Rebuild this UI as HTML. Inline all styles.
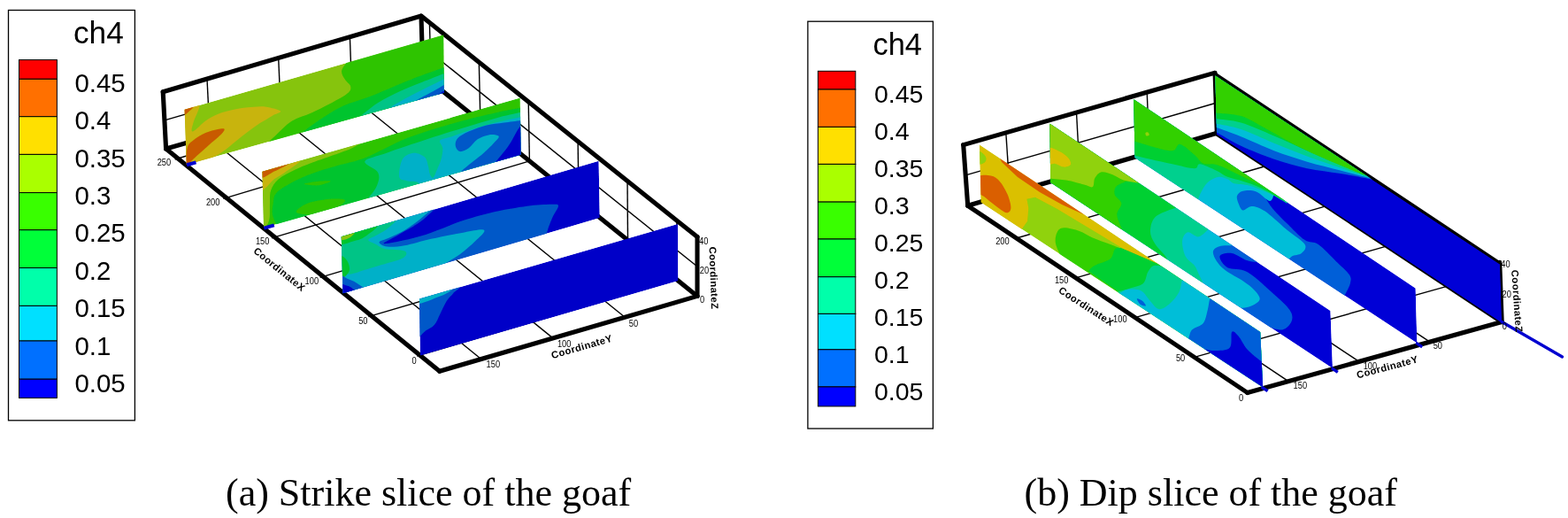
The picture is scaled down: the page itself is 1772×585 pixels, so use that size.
<!DOCTYPE html>
<html lang="en"><head><meta charset="utf-8"><title>Figure: ch4 slices of the goaf</title>
<style>
html,body{margin:0;padding:0;background:#fff;}
body{width:1772px;height:585px;overflow:hidden;}
svg{display:block;}
text{fill:#000;}
</style></head>
<body>
<svg width="1772" height="585" viewBox="0 0 1772 585">
<rect x="0" y="0" width="1772" height="585" fill="#fff"/>
<rect x="9.5" y="11.5" width="142.9" height="463.3" fill="#fff" stroke="#000" stroke-width="1.3"/>
<rect x="21.5" y="67.6" width="42.900000000000006" height="21.7" fill="#ff0000" stroke="#000" stroke-width="1"/>
<rect x="21.5" y="89.3" width="42.900000000000006" height="42.4" fill="#ff7000" stroke="#000" stroke-width="1"/>
<rect x="21.5" y="131.7" width="42.900000000000006" height="42.7" fill="#ffe000" stroke="#000" stroke-width="1"/>
<rect x="21.5" y="174.4" width="42.900000000000006" height="43.2" fill="#aaff00" stroke="#000" stroke-width="1"/>
<rect x="21.5" y="217.6" width="42.900000000000006" height="42.1" fill="#39ff00" stroke="#000" stroke-width="1"/>
<rect x="21.5" y="259.7" width="42.900000000000006" height="42.8" fill="#00ff39" stroke="#000" stroke-width="1"/>
<rect x="21.5" y="302.5" width="42.900000000000006" height="42.9" fill="#00ffaa" stroke="#000" stroke-width="1"/>
<rect x="21.5" y="345.4" width="42.900000000000006" height="39.6" fill="#00e0ff" stroke="#000" stroke-width="1"/>
<rect x="21.5" y="385.0" width="42.900000000000006" height="43.2" fill="#0070ff" stroke="#000" stroke-width="1"/>
<rect x="21.5" y="428.2" width="42.900000000000006" height="21.2" fill="#0000ff" stroke="#000" stroke-width="1"/>
<text x="83.0" y="49.3" font-family="'Liberation Sans', sans-serif" font-size="35.2" font-weight="normal" text-anchor="start" >ch4</text>
<text x="84.5" y="103.7" font-family="'Liberation Sans', sans-serif" font-size="29.4" font-weight="normal" text-anchor="start" >0.45</text>
<text x="84.5" y="146.1" font-family="'Liberation Sans', sans-serif" font-size="29.4" font-weight="normal" text-anchor="start" >0.4</text>
<text x="84.5" y="188.5" font-family="'Liberation Sans', sans-serif" font-size="29.4" font-weight="normal" text-anchor="start" >0.35</text>
<text x="84.5" y="230.9" font-family="'Liberation Sans', sans-serif" font-size="29.4" font-weight="normal" text-anchor="start" >0.3</text>
<text x="84.5" y="273.3" font-family="'Liberation Sans', sans-serif" font-size="29.4" font-weight="normal" text-anchor="start" >0.25</text>
<text x="84.5" y="315.7" font-family="'Liberation Sans', sans-serif" font-size="29.4" font-weight="normal" text-anchor="start" >0.2</text>
<text x="84.5" y="358.1" font-family="'Liberation Sans', sans-serif" font-size="29.4" font-weight="normal" text-anchor="start" >0.15</text>
<text x="84.5" y="400.5" font-family="'Liberation Sans', sans-serif" font-size="29.4" font-weight="normal" text-anchor="start" >0.1</text>
<text x="84.5" y="442.9" font-family="'Liberation Sans', sans-serif" font-size="29.4" font-weight="normal" text-anchor="start" >0.05</text>
<rect x="912.9" y="24.2" width="141.5000000000001" height="459.8" fill="#fff" stroke="#000" stroke-width="1.3"/>
<rect x="924.4" y="80.3" width="42.39999999999998" height="20.7" fill="#ff0000" stroke="#000" stroke-width="1"/>
<rect x="924.4" y="101.0" width="42.39999999999998" height="42.4" fill="#ff7000" stroke="#000" stroke-width="1"/>
<rect x="924.4" y="143.4" width="42.39999999999998" height="42.0" fill="#ffe000" stroke="#000" stroke-width="1"/>
<rect x="924.4" y="185.4" width="42.39999999999998" height="42.7" fill="#aaff00" stroke="#000" stroke-width="1"/>
<rect x="924.4" y="228.1" width="42.39999999999998" height="41.9" fill="#39ff00" stroke="#000" stroke-width="1"/>
<rect x="924.4" y="270.0" width="42.39999999999998" height="42.7" fill="#00ff39" stroke="#000" stroke-width="1"/>
<rect x="924.4" y="312.7" width="42.39999999999998" height="41.7" fill="#00ffaa" stroke="#000" stroke-width="1"/>
<rect x="924.4" y="354.4" width="42.39999999999998" height="40.4" fill="#00e0ff" stroke="#000" stroke-width="1"/>
<rect x="924.4" y="394.8" width="42.39999999999998" height="42.1" fill="#0070ff" stroke="#000" stroke-width="1"/>
<rect x="924.4" y="436.9" width="42.39999999999998" height="22.0" fill="#0000ff" stroke="#000" stroke-width="1"/>
<text x="986.5" y="62.0" font-family="'Liberation Sans', sans-serif" font-size="34.4" font-weight="normal" text-anchor="start" >ch4</text>
<text x="988.0" y="115.6" font-family="'Liberation Sans', sans-serif" font-size="28.5" font-weight="normal" text-anchor="start" >0.45</text>
<text x="988.0" y="157.6" font-family="'Liberation Sans', sans-serif" font-size="28.5" font-weight="normal" text-anchor="start" >0.4</text>
<text x="988.0" y="199.6" font-family="'Liberation Sans', sans-serif" font-size="28.5" font-weight="normal" text-anchor="start" >0.35</text>
<text x="988.0" y="241.6" font-family="'Liberation Sans', sans-serif" font-size="28.5" font-weight="normal" text-anchor="start" >0.3</text>
<text x="988.0" y="283.6" font-family="'Liberation Sans', sans-serif" font-size="28.5" font-weight="normal" text-anchor="start" >0.25</text>
<text x="988.0" y="325.6" font-family="'Liberation Sans', sans-serif" font-size="28.5" font-weight="normal" text-anchor="start" >0.2</text>
<text x="988.0" y="367.6" font-family="'Liberation Sans', sans-serif" font-size="28.5" font-weight="normal" text-anchor="start" >0.15</text>
<text x="988.0" y="409.6" font-family="'Liberation Sans', sans-serif" font-size="28.5" font-weight="normal" text-anchor="start" >0.1</text>
<text x="988.0" y="451.6" font-family="'Liberation Sans', sans-serif" font-size="28.5" font-weight="normal" text-anchor="start" >0.05</text>
<text x="255.0" y="570.5" font-family="'Liberation Serif', sans-serif" font-size="44" font-weight="normal" text-anchor="start" >(a) Strike slice of the goaf</text>
<text x="1157.5" y="570.5" font-family="'Liberation Serif', sans-serif" font-size="44" font-weight="normal" text-anchor="start" >(b) Dip slice of the goaf</text>
<defs><filter id="soft" x="-2%" y="-2%" width="104%" height="104%"><feGaussianBlur stdDeviation="0.5"/></filter></defs>
<g filter="url(#soft)">
<line x1="197.7" y1="180.0" x2="487.3" y2="92.5" stroke="#000" stroke-width="1.4" stroke-linecap="butt"/>
<line x1="252.4" y1="224.4" x2="542.9" y2="137.2" stroke="#000" stroke-width="1.4" stroke-linecap="butt"/>
<line x1="307.0" y1="268.9" x2="598.4" y2="181.9" stroke="#000" stroke-width="1.4" stroke-linecap="butt"/>
<line x1="361.7" y1="313.3" x2="654.0" y2="226.6" stroke="#000" stroke-width="1.4" stroke-linecap="butt"/>
<line x1="416.4" y1="357.7" x2="709.5" y2="271.3" stroke="#000" stroke-width="1.4" stroke-linecap="butt"/>
<line x1="471.1" y1="402.1" x2="765.1" y2="315.9" stroke="#000" stroke-width="1.4" stroke-linecap="butt"/>
<line x1="543.7" y1="405.5" x2="234.4" y2="154.6" stroke="#000" stroke-width="1.4" stroke-linecap="butt"/>
<line x1="624.9" y1="381.9" x2="315.4" y2="131.5" stroke="#000" stroke-width="1.4" stroke-linecap="butt"/>
<line x1="706.2" y1="358.2" x2="396.4" y2="108.3" stroke="#000" stroke-width="1.4" stroke-linecap="butt"/>
<line x1="237.2" y1="153.8" x2="234.0" y2="89.1" stroke="#000" stroke-width="1.4" stroke-linecap="butt"/>
<line x1="317.5" y1="130.9" x2="314.7" y2="65.4" stroke="#000" stroke-width="1.4" stroke-linecap="butt"/>
<line x1="397.8" y1="107.9" x2="395.4" y2="41.7" stroke="#000" stroke-width="1.4" stroke-linecap="butt"/>
<line x1="185.9" y1="135.8" x2="477.0" y2="51.5" stroke="#000" stroke-width="1.4" stroke-linecap="butt"/>
<line x1="487.3" y1="92.5" x2="485.4" y2="25.5" stroke="#000" stroke-width="1.4" stroke-linecap="butt"/>
<line x1="542.9" y1="137.2" x2="541.3" y2="70.2" stroke="#000" stroke-width="1.4" stroke-linecap="butt"/>
<line x1="598.4" y1="181.9" x2="597.2" y2="114.9" stroke="#000" stroke-width="1.4" stroke-linecap="butt"/>
<line x1="654.0" y1="226.6" x2="653.1" y2="159.7" stroke="#000" stroke-width="1.4" stroke-linecap="butt"/>
<line x1="709.5" y1="271.3" x2="709.0" y2="204.4" stroke="#000" stroke-width="1.4" stroke-linecap="butt"/>
<line x1="765.1" y1="315.9" x2="764.9" y2="249.1" stroke="#000" stroke-width="1.4" stroke-linecap="butt"/>
<line x1="477.0" y1="51.5" x2="788.0" y2="301.0" stroke="#000" stroke-width="1.4" stroke-linecap="butt"/>
<line x1="187.6" y1="168.0" x2="478.0" y2="85.0" stroke="#000" stroke-width="5.1" stroke-linecap="round"/>
<line x1="478.0" y1="85.0" x2="788.0" y2="334.4" stroke="#000" stroke-width="5.1" stroke-linecap="round"/>
<line x1="478.0" y1="85.0" x2="476.0" y2="18.0" stroke="#000" stroke-width="5.1" stroke-linecap="round"/>
<polyline points="184.2,103.7 476.0,18.0 788.0,267.6" fill="none" stroke="#000" stroke-width="5.1" stroke-linejoin="round" stroke-linecap="round"/>
<line x1="187.6" y1="168.0" x2="184.2" y2="103.7" stroke="#000" stroke-width="5.1" stroke-linecap="round"/>
<line x1="187.6" y1="168.0" x2="496.8" y2="419.2" stroke="#000" stroke-width="5.1" stroke-linecap="round"/>
<line x1="496.8" y1="419.2" x2="788.0" y2="334.4" stroke="#000" stroke-width="5.1" stroke-linecap="round"/>
<line x1="788.0" y1="334.4" x2="788.0" y2="267.6" stroke="#000" stroke-width="5.1" stroke-linecap="round"/>
<clipPath id="ls0"><polygon points="208.6,123.7 501.2,39.4 501.8,104.8 210.8,186.0"/></clipPath>
<g clip-path="url(#ls0)">
<polygon points="208.6,123.7 501.2,39.4 501.8,104.8 210.8,186.0" fill="#86c40a" />
<path d="M393.6,68.0 C392.4,70.0 386.7,76.3 386.1,79.9 C385.5,83.5 388.2,86.9 389.9,89.8 C391.6,92.7 395.5,94.8 396.1,97.3 C396.7,99.8 396.7,101.9 393.6,104.8 C390.5,107.7 384.2,111.0 377.4,114.8 C370.5,118.5 360.4,123.6 352.5,127.3 C344.6,131.0 336.4,132.6 329.7,136.8 C323.0,141.0 317.0,147.9 312.2,152.3 C307.4,156.7 302.9,161.2 301.0,163.0 L300.0,175.0 L510.0,110.0 L510.0,30.0 L393.0,60.0Z" fill="#2ec400"/>
<path d="M335.0,156.0 C335.8,155.2 335.2,154.5 339.7,151.0 C344.2,147.5 354.2,140.0 362.1,134.8 C370.0,129.6 377.0,124.5 387.0,119.9 C397.0,115.3 409.1,112.4 422.0,107.4 C434.9,102.4 450.9,95.2 464.7,89.8 C478.5,84.4 498.3,77.5 505.0,75.0 L510.0,120.0 L330.0,170.0Z" fill="#00c42e"/>
<path d="M402.4,137.2 C403.3,136.2 403.7,134.5 407.8,131.0 C412.0,127.5 419.9,120.7 427.3,116.0 C434.7,111.4 443.9,106.9 452.2,103.1 C460.6,99.2 468.0,96.5 477.2,92.8 C486.3,89.2 502.1,83.1 507.1,81.1 L510.0,120.0 L400.0,140.0Z" fill="#00c486"/>
<path d="M436.0,127.3 C436.7,126.3 435.5,125.0 440.3,121.8 C445.1,118.5 456.5,112.2 464.7,107.8 C473.0,103.4 482.6,98.8 489.7,95.3 C496.7,91.8 504.2,88.3 507.1,86.8 L510.0,120.0 L435.0,130.0Z" fill="#00b0c8"/>
<path d="M466.0,118.5 C466.7,117.7 466.3,116.1 470.2,113.5 C474.2,111.0 483.5,106.5 489.7,103.1 C495.8,99.6 504.2,94.5 507.1,92.8 L510.0,120.0 L465.0,122.0Z" fill="#0058c8"/>
<path d="M489.7,109.8 C490.7,109.2 493.0,107.8 495.9,106.1 C498.8,104.3 505.3,100.4 507.1,99.3 L510.0,115.0 L484.0,116.0Z" fill="#0000c8"/>
<path d="M205.0,117.3 C208.4,104.7 223.2,112.5 225.5,115.9 C227.8,119.3 220.1,132.5 218.7,137.8 C217.2,143.0 216.4,145.7 216.6,147.3 C216.8,148.9 217.4,149.2 220.0,147.3 C222.7,145.5 228.0,139.5 232.3,136.4 C236.7,133.3 241.4,130.8 246.0,128.9 C250.6,126.9 255.1,125.9 259.7,124.8 C264.2,123.6 268.8,122.7 273.3,122.1 C277.9,121.4 282.4,120.9 287.0,120.7 C291.6,120.5 295.7,119.9 300.7,120.7 C305.7,121.5 315.9,123.8 317.1,125.5 C318.2,127.2 311.4,128.7 307.5,130.9 C303.6,133.2 298.4,136.2 293.8,139.1 C289.3,142.1 284.7,145.3 280.2,148.7 C275.6,152.1 271.1,156.0 266.5,159.6 C261.9,163.3 257.4,167.4 252.8,170.6 C248.3,173.8 244.2,176.4 239.2,178.8 C234.2,181.2 227.1,182.9 222.8,184.9 C218.4,187.0 216.2,190.0 213.2,191.1 C210.2,192.1 206.4,203.4 205.0,191.1 C203.6,178.8 201.6,129.8 205.0,117.3Z" fill="#c8b408"/>
<path d="M205.0,118.6 C207.4,116.5 220.0,115.3 221.4,116.6 C222.8,117.8 215.6,124.0 213.2,126.2 C210.8,128.3 208.4,130.8 207.1,129.6 C205.7,128.3 202.6,120.8 205.0,118.6Z" fill="#c85a00"/>
<path d="M209.8,185.6 C209.8,182.2 210.4,171.0 211.8,166.5 C213.3,161.9 215.3,161.0 218.7,158.3 C222.1,155.5 227.8,152.1 232.3,150.1 C236.9,148.0 242.5,146.7 246.0,146.0 C249.5,145.2 252.8,144.8 253.5,145.7 C254.2,146.6 252.5,148.9 250.1,151.4 C247.7,154.0 243.3,157.4 239.2,161.0 C235.1,164.6 229.4,169.8 225.5,173.3 C221.6,176.8 218.2,179.9 215.9,182.2 C213.7,184.5 212.9,186.4 211.8,187.0 C210.8,187.5 209.8,189.0 209.8,185.6Z" fill="#c85a00"/>
</g>
<clipPath id="ls1"><polygon points="296.5,193.7 587.8,110.5 588.5,174.8 298.0,257.3"/></clipPath>
<g clip-path="url(#ls1)">
<polygon points="296.5,193.7 587.8,110.5 588.5,174.8 298.0,257.3" fill="#2ec400" />
<path d="M292.5,192.4 C310.4,176.4 382.3,165.3 399.7,161.2 C417.2,157.0 403.9,164.1 397.2,167.4 C390.6,170.7 370.2,177.2 359.8,181.1 C349.4,185.1 342.4,187.6 334.9,191.1 C327.4,194.6 319.7,198.4 314.9,202.3 C310.2,206.3 307.9,210.2 306.2,214.8 C304.5,219.4 305.2,224.4 305.0,229.8 C304.7,235.2 305.3,242.9 304.5,247.2 C303.6,251.6 302.0,254.3 300.0,256.0 C298.0,257.6 293.7,267.8 292.5,257.2 C291.2,246.6 274.6,208.4 292.5,192.4Z" fill="#86c40a"/>
<path d="M292.5,196.1 C300.2,190.3 333.6,181.4 338.6,181.1 C343.6,180.8 327.2,190.8 322.4,194.4 C317.6,197.9 313.7,199.3 309.9,202.3 C306.2,205.3 302.9,210.0 300.0,212.3 C297.1,214.6 293.7,218.8 292.5,216.1 C291.2,213.4 284.8,201.9 292.5,196.1Z" fill="#c8b408"/>
<path d="M292.5,191.1 C297.7,188.3 323.2,184.0 326.2,184.4 C329.1,184.8 315.1,190.8 309.9,193.6 C304.7,196.4 297.9,201.5 295.0,201.1 C292.1,200.7 287.3,193.9 292.5,191.1Z" fill="#c85a00"/>
<path d="M312.4,253.5 C311.7,251.6 308.6,246.2 307.9,242.2 C307.3,238.3 307.9,233.9 308.7,229.8 C309.5,225.6 308.6,221.7 312.9,217.3 C317.3,212.9 327.1,207.5 334.9,203.6 C342.7,199.6 351.5,196.5 359.8,193.6 C368.1,190.7 375.6,188.8 384.8,186.1 C393.9,183.4 402.2,182.4 414.7,177.4 C427.2,172.4 444.0,162.4 459.9,156.1 C475.7,149.9 493.1,144.7 509.8,139.9 C526.4,135.1 545.9,130.5 559.7,127.4 C573.4,124.3 586.7,122.2 592.1,121.2 L600.0,180.0 L300.0,270.0Z" fill="#00c42e"/>
<path d="M334.9,239.8 C333.6,237.7 341.1,232.3 347.4,229.8 C353.6,227.3 365.2,225.4 372.3,224.8 C379.4,224.2 388.5,224.4 389.8,226.0 C391.0,227.7 385.6,232.1 379.8,234.8 C374.0,237.5 362.3,241.4 354.8,242.2 C347.4,243.1 336.1,241.8 334.9,239.8Z" fill="#2ec400"/>
<path d="M343.6,207.8 C343.6,207.1 354.8,205.3 359.8,204.8 C364.8,204.3 373.6,204.1 373.6,204.8 C373.6,205.6 364.8,208.8 359.8,209.3 C354.8,209.8 343.6,208.6 343.6,207.8Z" fill="#2ec400"/>
<path d="M592.1,126.2 C586.7,127.4 573.4,129.9 559.7,133.7 C545.9,137.4 526.4,143.4 509.8,148.6 C493.1,153.8 472.4,160.7 459.9,164.8 C447.4,169.0 442.9,170.6 434.9,173.6 C427.0,176.5 413.5,178.8 412.2,182.4 C410.9,185.9 424.9,190.3 427.2,194.9 C429.5,199.4 428.0,204.6 425.9,209.8 C423.9,215.0 417.2,222.3 414.7,226.0 C412.2,229.8 411.6,231.2 411.0,232.3 L600.0,180.0Z" fill="#00c486"/>
<path d="M592.1,131.2 C586.7,132.4 570.1,135.9 559.7,138.6 C549.3,141.3 538.0,144.8 529.7,147.4 C521.4,150.0 515.2,152.5 509.8,154.4 C504.4,156.2 498.9,156.4 497.3,158.6 C495.7,160.8 500.1,163.8 500.3,167.3 C500.5,170.9 499.7,175.6 498.6,179.8 C497.4,184.0 495.1,188.7 493.6,192.3 C492.0,195.8 490.7,200.4 489.3,201.0 C488.0,201.6 486.5,198.3 485.6,196.0 C484.7,193.7 484.8,190.4 483.8,187.3 C482.9,184.2 482.6,179.7 479.8,177.3 C477.1,174.9 471.5,172.4 467.4,172.8 C463.2,173.2 457.6,175.3 454.9,179.8 C452.2,184.3 450.3,195.7 451.2,199.8 C452.0,203.8 456.4,203.2 459.9,204.2 C463.4,205.3 470.7,204.5 472.4,206.0 C474.0,207.5 470.3,212.2 469.9,213.5 L600.0,180.0Z" fill="#00b0c8"/>
<path d="M592.1,135.6 C588.3,136.1 576.7,137.6 569.6,138.6 C562.6,139.6 556.3,140.0 549.7,141.6 C543.0,143.3 535.1,146.2 529.7,148.6 C524.3,151.0 519.8,153.4 517.3,156.1 C514.8,158.8 514.3,162.3 514.8,164.8 C515.2,167.3 517.3,170.7 519.8,171.1 C522.2,171.5 526.4,169.6 529.7,167.3 C533.1,165.0 536.0,159.8 539.7,157.3 C543.4,154.9 548.2,153.0 552.2,152.4 C556.1,151.7 562.2,152.4 563.4,153.6 C564.7,154.9 562.4,156.7 559.7,159.8 C557.0,163.0 551.3,168.6 547.2,172.3 C543.0,176.1 539.3,178.6 534.7,182.3 C530.1,186.0 523.1,191.6 519.8,194.8 C516.4,197.9 515.6,200.0 514.8,201.0 L600.0,180.0Z" fill="#0058c8"/>
<path d="M557.2,187.3 C557.6,186.7 556.8,187.3 559.7,183.5 C562.6,179.8 570.5,170.9 574.6,164.8 C578.8,158.8 582.3,151.2 584.6,147.4 C586.9,143.5 587.7,143.3 588.6,141.9 C589.5,140.4 589.8,139.2 590.1,138.6 L600.0,180.0Z" fill="#0000c8"/>
</g>
<clipPath id="ls2"><polygon points="385.8,267.3 676.6,181.8 677.8,246.1 387.5,331.2"/></clipPath>
<g clip-path="url(#ls2)">
<polygon points="385.8,267.3 676.6,181.8 677.8,246.1 387.5,331.2" fill="#0000c8" />
<path d="M616.0,271.0 C616.6,268.7 618.3,261.6 619.7,257.3 C621.2,252.9 622.8,248.9 624.7,244.8 C626.6,240.7 631.0,235.2 631.0,232.8 C631.0,230.5 629.9,230.9 624.7,230.8 C619.5,230.8 610.2,231.0 599.8,232.3 C589.4,233.6 574.8,235.9 562.4,238.6 C549.9,241.3 535.3,245.3 524.9,248.6 C514.5,251.8 508.3,254.8 500.0,257.9 C491.6,260.9 483.1,264.4 474.8,266.8 C466.4,269.3 456.7,271.5 449.8,272.8 C443.0,274.2 433.6,276.1 433.6,274.8 C433.6,273.6 443.0,269.4 449.8,265.4 C456.7,261.3 467.3,256.1 474.8,250.6 C482.3,245.1 491.4,235.5 494.7,232.4 L370.0,250.0 L380.0,345.0 L620.0,275.0Z" fill="#0058c8"/>
<path d="M491.0,233.7 C488.3,236.0 480.4,243.0 474.8,247.4 C469.2,251.8 463.1,256.3 457.3,259.9 C451.5,263.4 444.6,266.3 439.9,268.6 C435.1,270.9 429.0,271.9 428.6,273.6 C428.2,275.2 432.6,277.9 437.4,278.6 C442.1,279.2 449.0,278.8 457.3,277.3 C465.6,275.9 476.0,272.3 487.2,269.8 C498.5,267.3 514.7,264.0 524.7,262.4 C534.6,260.7 545.0,258.2 547.1,259.9 C549.2,261.5 541.7,267.8 537.1,272.3 C532.6,276.9 525.5,282.9 519.7,287.3 C513.9,291.7 506.2,295.2 502.2,298.5 C498.3,301.9 497.0,305.8 496.0,307.3 L380.0,345.0 L370.0,250.0Z" fill="#00b0c8"/>
<path d="M452.3,244.9 C449.8,247.2 441.9,255.1 437.4,258.6 C432.8,262.2 428.4,264.0 424.9,266.1 C421.4,268.2 416.2,269.4 416.2,271.1 C416.2,272.8 421.8,274.4 424.9,276.1 C428.0,277.7 429.5,279.8 434.9,281.1 C440.3,282.3 453.8,281.9 457.3,283.6 C460.8,285.2 459.4,288.8 456.1,291.0 C452.7,293.3 444.6,295.0 437.4,297.3 C430.1,299.6 419.5,302.7 412.4,304.8 C405.3,306.8 399.9,309.5 395.0,309.8 C390.0,310.0 384.6,306.6 382.5,306.0 L370.0,250.0Z" fill="#00c486"/>
<path d="M382.5,263.6 C389.8,259.9 421.1,253.0 426.1,253.6 C431.1,254.3 416.8,264.2 412.4,267.3 C408.1,270.5 404.9,270.9 399.9,272.3 C395.0,273.8 385.4,277.5 382.5,276.1 C379.6,274.6 375.2,267.3 382.5,263.6Z" fill="#00c42e"/>
<path d="M385.0,289.8 C386.2,286.9 390.8,292.3 392.5,294.8 C394.1,297.3 395.4,301.9 395.0,304.8 C394.5,307.7 391.6,311.0 390.0,312.2 C388.3,313.5 385.8,316.0 385.0,312.2 C384.1,308.5 383.7,292.7 385.0,289.8Z" fill="#00c42e"/>
<path d="M382.5,262.4 C385.4,260.5 399.1,258.8 401.2,259.9 C403.3,260.9 397.9,266.7 395.0,268.6 C392.0,270.5 385.8,272.1 383.7,271.1 C381.7,270.1 379.6,264.2 382.5,262.4Z" fill="#86c40a"/>
<path d="M382.5,311.0 C383.7,307.5 389.1,313.4 392.5,314.7 C395.8,316.1 399.3,316.9 402.4,319.2 C405.6,321.5 414.1,325.7 411.2,328.5 C408.3,331.2 389.8,338.9 385.0,335.9 C380.2,333.0 381.2,314.5 382.5,311.0Z" fill="#0058c8"/>
<path d="M382.5,321.7 C383.7,319.5 389.8,322.0 392.5,322.7 C395.2,323.4 397.2,324.6 398.7,326.0 C400.2,327.3 403.5,329.3 401.2,331.0 C398.9,332.6 388.1,337.5 385.0,335.9 C381.9,334.4 381.2,323.9 382.5,321.7Z" fill="#0000c8"/>
</g>
<clipPath id="ls3"><polygon points="474.0,337.4 765.9,252.9 766.4,317.2 474.8,401.8"/></clipPath>
<g clip-path="url(#ls3)">
<polygon points="474.0,337.4 765.9,252.9 766.4,317.2 474.8,401.8" fill="#0000c8" />
<path d="M469.8,334.9 C477.5,325.8 510.1,324.3 517.2,323.7 C524.3,323.1 514.3,328.5 512.2,331.2 C510.1,333.9 507.2,336.0 504.7,339.9 C502.2,343.9 499.5,350.4 497.2,354.9 C494.9,359.4 493.7,363.7 491.0,366.8 C488.3,370.0 484.3,371.6 481.0,373.6 C477.7,375.5 472.9,385.0 471.0,378.6 C469.2,372.1 462.1,344.1 469.8,334.9Z" fill="#0058c8"/>
<path d="M471.0,334.9 C477.7,331.9 505.3,325.6 511.0,324.9 C516.6,324.3 508.3,329.1 504.7,331.2 C501.2,333.3 493.9,335.8 489.8,337.4 C485.6,339.1 482.9,340.2 479.8,341.2 C476.7,342.1 472.5,343.9 471.0,342.9 C469.6,341.9 464.4,337.9 471.0,334.9Z" fill="#00b0c8"/>
</g>
<text transform="translate(185.4,187.1) scale(0.86,1)" font-family="'Liberation Sans', sans-serif" font-size="10.8" text-anchor="middle" fill="#2a2a2a">250</text>
<text transform="translate(240.7,231.7) scale(0.86,1)" font-family="'Liberation Sans', sans-serif" font-size="10.8" text-anchor="middle" fill="#2a2a2a">200</text>
<text transform="translate(296.7,276.1) scale(0.86,1)" font-family="'Liberation Sans', sans-serif" font-size="10.8" text-anchor="middle" fill="#2a2a2a">150</text>
<text transform="translate(352.3,320.9) scale(0.86,1)" font-family="'Liberation Sans', sans-serif" font-size="10.8" text-anchor="middle" fill="#2a2a2a">100</text>
<text transform="translate(410.3,365.7) scale(0.86,1)" font-family="'Liberation Sans', sans-serif" font-size="10.8" text-anchor="middle" fill="#2a2a2a">50</text>
<text transform="translate(468.1,410.6) scale(0.86,1)" font-family="'Liberation Sans', sans-serif" font-size="10.8" text-anchor="middle" fill="#2a2a2a">0</text>
<text transform="translate(557.3,415.4) scale(0.86,1)" font-family="'Liberation Sans', sans-serif" font-size="10.8" text-anchor="middle" fill="#2a2a2a">150</text>
<text transform="translate(637.7,391.7) scale(0.86,1)" font-family="'Liberation Sans', sans-serif" font-size="10.8" text-anchor="middle" fill="#2a2a2a">100</text>
<text transform="translate(716.0,368.6) scale(0.86,1)" font-family="'Liberation Sans', sans-serif" font-size="10.8" text-anchor="middle" fill="#2a2a2a">50</text>
<text transform="translate(795.2,276.3) scale(0.86,1)" font-family="'Liberation Sans', sans-serif" font-size="10.8" text-anchor="middle" fill="#2a2a2a">40</text>
<text transform="translate(795.9,308.7) scale(0.86,1)" font-family="'Liberation Sans', sans-serif" font-size="10.8" text-anchor="middle" fill="#2a2a2a">20</text>
<text transform="translate(793.6,342.4) scale(0.86,1)" font-family="'Liberation Sans', sans-serif" font-size="10.8" text-anchor="middle" fill="#2a2a2a">0</text>
<line x1="211.0" y1="186.3" x2="221.5" y2="183.4" stroke="#0000d0" stroke-width="4.0" stroke-linecap="butt"/>
<line x1="298.3" y1="257.6" x2="309.8" y2="254.4" stroke="#0000d0" stroke-width="4.0" stroke-linecap="butt"/>
<text x="287.5" y="282.4" font-family="'Liberation Sans', sans-serif" font-size="11.2" font-weight="bold" text-anchor="start" transform="rotate(39 287.5 282.4)" dominant-baseline="middle" letter-spacing="0.45">CoordinateX</text>
<text x="623.4" y="402.3" font-family="'Liberation Sans', sans-serif" font-size="11.2" font-weight="bold" text-anchor="start" transform="rotate(-16 623.4 402.3)" dominant-baseline="middle" letter-spacing="0.45">CoordinateY</text>
<text x="804.5" y="278.6" font-family="'Liberation Sans', sans-serif" font-size="11.2" font-weight="bold" text-anchor="start" transform="rotate(88 804.5 278.6)" dominant-baseline="middle" letter-spacing="0.45">CoordinateZ</text>
</g>
<g filter="url(#soft)">
<line x1="1148.6" y1="269.0" x2="1430.6" y2="187.5" stroke="#000" stroke-width="1.4" stroke-linecap="butt"/>
<line x1="1215.6" y1="313.8" x2="1499.0" y2="232.7" stroke="#000" stroke-width="1.4" stroke-linecap="butt"/>
<line x1="1282.7" y1="358.6" x2="1567.5" y2="277.9" stroke="#000" stroke-width="1.4" stroke-linecap="butt"/>
<line x1="1349.8" y1="403.4" x2="1636.0" y2="323.1" stroke="#000" stroke-width="1.4" stroke-linecap="butt"/>
<line x1="1456.1" y1="430.6" x2="1139.0" y2="219.1" stroke="#000" stroke-width="1.4" stroke-linecap="butt"/>
<line x1="1536.0" y1="408.4" x2="1217.0" y2="196.4" stroke="#000" stroke-width="1.4" stroke-linecap="butt"/>
<line x1="1615.9" y1="386.1" x2="1295.1" y2="173.6" stroke="#000" stroke-width="1.4" stroke-linecap="butt"/>
<line x1="1141.3" y1="218.4" x2="1136.8" y2="149.8" stroke="#000" stroke-width="1.4" stroke-linecap="butt"/>
<line x1="1220.2" y1="195.4" x2="1216.5" y2="127.0" stroke="#000" stroke-width="1.4" stroke-linecap="butt"/>
<line x1="1299.1" y1="172.5" x2="1296.2" y2="104.2" stroke="#000" stroke-width="1.4" stroke-linecap="butt"/>
<line x1="1091.2" y1="197.9" x2="1373.4" y2="116.5" stroke="#000" stroke-width="1.4" stroke-linecap="butt"/>
<line x1="1093.7" y1="232.3" x2="1374.5" y2="150.5" stroke="#000" stroke-width="5.1" stroke-linecap="round"/>
<line x1="1374.5" y1="150.5" x2="1697.2" y2="363.5" stroke="#000" stroke-width="5.1" stroke-linecap="round"/>
<line x1="1375.3" y1="150.5" x2="1373.1" y2="82.4" stroke="#000" stroke-width="5.1" stroke-linecap="round"/>
<line x1="1088.7" y1="163.6" x2="1372.3" y2="82.4" stroke="#000" stroke-width="5.1" stroke-linecap="round"/>
<line x1="1372.9" y1="84.0" x2="1694.7" y2="297.8" stroke="#000" stroke-width="5.1" stroke-linecap="round"/>
<line x1="1093.7" y1="232.3" x2="1088.7" y2="163.6" stroke="#000" stroke-width="5.1" stroke-linecap="round"/>
<line x1="1093.7" y1="232.3" x2="1409.7" y2="443.5" stroke="#000" stroke-width="5.1" stroke-linecap="round"/>
<line x1="1409.7" y1="443.5" x2="1697.2" y2="363.5" stroke="#000" stroke-width="5.1" stroke-linecap="round"/>
<line x1="1697.2" y1="363.5" x2="1694.7" y2="296.2" stroke="#000" stroke-width="5.1" stroke-linecap="round"/>
<line x1="1697.2" y1="363.5" x2="1765.5" y2="403.0" stroke="#0000d0" stroke-width="3.4" stroke-linecap="round"/>
<clipPath id="rs0"><polygon points="1373.4,85.4 1695.2,298.6 1697.2,364.8 1375.0,152.0"/></clipPath>
<g clip-path="url(#rs0)">
<polygon points="1373.4,85.4 1695.2,298.6 1697.2,364.8 1375.0,152.0" fill="#0000d6" />
<path d="M1367.5,147.8 C1368.5,148.0 1367.9,146.2 1373.7,149.1 C1379.6,151.9 1391.4,159.7 1402.4,164.8 C1413.4,169.9 1427.4,175.5 1439.8,179.8 C1452.3,184.0 1464.8,187.5 1477.2,190.2 C1489.7,192.9 1502.4,193.9 1514.7,196.0 C1526.9,198.0 1544.8,201.6 1550.8,202.7 L1580.0,205.0 L1365.0,60.0Z" fill="#005ed8"/>
<path d="M1367.5,142.3 C1368.5,142.6 1367.9,141.8 1373.7,143.8 C1379.6,145.8 1391.4,149.9 1402.4,154.3 C1413.4,158.7 1427.4,165.5 1439.8,170.3 C1452.3,175.0 1464.8,179.0 1477.2,182.7 C1489.7,186.4 1502.8,189.4 1514.7,192.5 C1526.5,195.6 1542.7,199.7 1548.3,201.2 L1580.0,205.0 L1365.0,60.0Z" fill="#00bed8"/>
<path d="M1367.5,138.3 C1368.5,138.6 1367.9,138.3 1373.7,139.6 C1379.6,140.9 1391.4,142.4 1402.4,146.1 C1413.4,149.8 1427.4,156.7 1439.8,161.8 C1452.3,166.9 1464.8,171.9 1477.2,176.5 C1489.7,181.1 1503.2,185.6 1514.7,189.5 C1526.1,193.3 1540.6,198.0 1545.8,199.7 L1580.0,205.0 L1365.0,60.0Z" fill="#00d08e"/>
<path d="M1367.5,133.1 C1368.5,133.3 1367.9,133.2 1373.7,134.1 C1379.6,135.0 1391.4,135.4 1402.4,138.6 C1413.4,141.8 1427.4,148.3 1439.8,153.6 C1452.3,158.8 1464.8,164.8 1477.2,170.3 C1489.7,175.7 1503.6,181.6 1514.7,186.2 C1525.7,190.9 1538.6,196.2 1543.3,198.2 L1580.0,205.0 L1365.0,60.0Z" fill="#00d030"/>
<path d="M1367.5,126.6 C1368.5,126.7 1367.9,126.6 1373.7,127.4 C1379.6,128.1 1393.5,128.4 1402.4,131.1 C1411.4,133.8 1417.0,138.1 1427.4,143.6 C1437.8,149.1 1452.3,158.0 1464.8,164.3 C1477.2,170.6 1489.5,176.0 1502.2,181.5 C1514.9,187.0 1534.4,194.6 1540.9,197.2 L1580.0,205.0 L1365.0,60.0Z" fill="#30d000"/>
</g>
<clipPath id="rs1"><polygon points="1281.3,112.3 1599.7,325.5 1601.4,387.5 1282.5,178.0"/></clipPath>
<g clip-path="url(#rs1)">
<polygon points="1281.3,112.3 1599.7,325.5 1601.4,387.5 1282.5,178.0" fill="#0000d6" />
<path d="M1419.7,205.0 C1422.0,208.9 1429.7,222.8 1433.4,228.7 C1437.1,234.5 1438.6,235.9 1442.1,239.9 C1445.7,243.8 1449.2,247.2 1454.6,252.4 C1460.0,257.6 1468.7,267.1 1474.6,271.1 C1480.4,275.0 1483.9,272.1 1489.8,276.1 C1495.6,280.0 1503.9,289.3 1509.7,294.9 C1515.6,300.6 1522.0,305.8 1524.7,309.9 C1527.4,314.1 1526.8,315.9 1525.9,319.9 C1525.1,323.8 1521.4,329.9 1519.7,333.6 C1518.0,337.3 1516.6,340.9 1516.0,342.3 L1400.0,280.0 L1270.0,200.0 L1270.0,100.0Z" fill="#005ed8"/>
<path d="M1439.6,219.9 C1438.8,221.1 1438.0,227.5 1434.7,226.9 C1431.3,226.3 1424.7,218.3 1419.7,216.4 C1414.7,214.6 1408.3,214.9 1404.7,215.7 C1401.1,216.5 1398.8,218.8 1398.0,221.2 C1397.2,223.5 1398.6,227.2 1399.7,229.9 C1400.9,232.6 1402.2,236.9 1404.7,237.4 C1407.2,237.9 1410.5,232.7 1414.7,232.9 C1418.9,233.1 1423.0,234.2 1429.7,238.6 C1436.3,243.1 1447.1,253.6 1454.6,259.8 C1462.1,266.1 1471.9,271.7 1474.6,276.1 C1477.3,280.4 1473.3,283.7 1470.8,286.0 C1468.3,288.3 1462.7,287.5 1459.6,289.8 C1456.5,292.1 1453.4,298.1 1452.1,299.8 L1400.0,280.0 L1270.0,200.0 L1270.0,100.0Z" fill="#00bed8"/>
<path d="M1352.3,229.7 C1353.2,227.6 1355.2,221.2 1357.3,217.2 C1359.4,213.3 1361.5,208.9 1364.8,206.0 C1368.1,203.1 1373.5,200.4 1377.3,199.8 C1381.0,199.2 1384.3,201.0 1387.2,202.3 C1390.2,203.5 1390.6,206.0 1394.7,207.3 C1398.9,208.5 1405.1,207.7 1412.2,209.8 C1419.3,211.8 1430.1,216.4 1437.1,219.7 C1444.2,223.1 1451.7,228.0 1454.6,229.7 L1460.0,210.0 L1270.0,90.0 L1270.0,200.0Z" fill="#00d08e"/>
<path d="M1277.5,174.3 C1281.2,175.2 1292.0,178.0 1299.9,179.8 C1307.8,181.6 1316.6,183.6 1324.9,185.3 C1333.2,187.1 1344.6,190.3 1349.8,190.3 C1355.0,190.3 1351.9,184.9 1356.1,185.3 C1360.2,185.7 1369.6,190.4 1374.8,192.8 C1380.0,195.2 1382.3,197.8 1387.2,199.8 C1392.2,201.8 1398.5,202.7 1404.7,204.8 C1410.9,206.8 1416.8,208.5 1424.7,212.2 C1432.6,216.0 1447.5,224.7 1452.1,227.2 L1460.0,210.0 L1270.0,90.0Z" fill="#00d030"/>
<path d="M1277.5,157.9 C1281.2,159.0 1292.0,162.8 1299.9,164.9 C1307.8,166.9 1319.3,170.7 1324.9,170.3 C1330.5,170.0 1329.5,162.1 1333.6,162.9 C1337.8,163.6 1345.5,171.2 1349.8,174.8 C1354.2,178.5 1355.7,182.9 1359.8,184.8 C1364.0,186.7 1368.1,184.0 1374.8,186.1 C1381.4,188.1 1391.4,193.3 1399.7,197.3 C1408.0,201.2 1416.3,205.1 1424.7,209.8 C1433.0,214.4 1445.4,222.6 1449.6,225.2 L1460.0,210.0 L1270.0,90.0Z" fill="#30d000"/>
<path d="M1294.5,149.9 C1294.8,149.2 1296.7,149.0 1297.4,149.4 C1298.2,149.8 1299.0,151.7 1298.7,152.4 C1298.4,153.0 1296.2,153.8 1295.5,153.4 C1294.7,153.0 1294.1,150.6 1294.5,149.9Z" fill="#90d208"/>
</g>
<clipPath id="rs2"><polygon points="1186.5,139.8 1503.5,351.1 1506.0,416.0 1187.2,206.1"/></clipPath>
<g clip-path="url(#rs2)">
<polygon points="1186.5,139.8 1503.5,351.1 1506.0,416.0 1187.2,206.1" fill="#0000d6" />
<path d="M1429.7,297.3 C1426.3,296.8 1415.9,296.1 1409.7,294.3 C1403.5,292.4 1397.4,286.9 1392.2,286.0 C1387.1,285.2 1379.4,286.6 1378.5,289.3 C1377.7,292.0 1382.1,299.3 1387.3,302.2 C1392.5,305.2 1400.9,302.2 1409.7,307.2 C1418.5,312.3 1431.9,325.3 1439.9,332.4 C1447.8,339.5 1454.0,344.8 1457.3,349.8 C1460.7,354.8 1461.1,358.6 1459.8,362.3 C1458.6,366.0 1454.4,371.0 1449.9,372.3 C1445.3,373.5 1436.1,369.4 1432.4,369.8 C1428.7,370.2 1428.2,373.9 1427.4,374.8 L1180.0,220.0 L1180.0,130.0Z" fill="#005ed8"/>
<path d="M1399.7,277.3 C1396.4,277.4 1384.6,276.8 1379.8,277.8 C1375.0,278.8 1371.9,280.7 1371.0,283.5 C1370.2,286.4 1372.5,291.1 1374.8,294.8 C1377.1,298.4 1379.7,301.5 1384.8,305.2 C1389.8,309.0 1399.5,313.7 1405.0,317.4 C1410.4,321.1 1414.3,324.0 1417.4,327.4 C1420.6,330.7 1423.7,334.6 1423.7,337.3 C1423.7,340.1 1420.6,342.3 1417.4,344.1 C1414.3,345.8 1409.1,347.7 1405.0,347.8 C1400.8,347.9 1395.8,344.9 1392.5,344.8 C1389.2,344.7 1386.3,346.9 1385.0,347.3 L1180.0,220.0 L1180.0,130.0Z" fill="#00bed8"/>
<path d="M1367.3,257.3 C1365.2,259.0 1359.0,266.5 1354.8,267.3 C1350.7,268.2 1345.5,261.5 1342.4,262.3 C1339.2,263.2 1336.5,267.7 1336.1,272.3 C1335.7,276.9 1337.6,285.2 1339.9,289.8 C1342.2,294.3 1347.3,296.4 1349.8,299.8 C1352.3,303.1 1352.8,305.6 1354.8,309.7 C1356.9,313.9 1361.1,322.2 1362.3,324.7 L1180.0,220.0 L1180.0,130.0Z" fill="#00d08e"/>
<path d="M1334.9,232.4 C1330.3,234.3 1313.3,239.1 1307.4,243.6 C1301.6,248.2 1300.4,254.6 1300.0,259.8 C1299.5,265.0 1302.0,269.8 1304.9,274.8 C1307.9,279.8 1314.9,286.0 1317.4,289.8 C1319.9,293.5 1319.5,296.0 1319.9,297.3 L1180.0,220.0 L1180.0,130.0Z" fill="#00d030"/>
<path d="M1279.8,202.3 C1276.9,203.6 1265.6,206.9 1262.3,209.8 C1259.0,212.7 1259.0,216.5 1259.8,219.8 C1260.6,223.1 1266.9,226.0 1267.3,229.8 C1267.7,233.5 1262.3,237.7 1262.3,242.2 C1262.3,246.8 1266.0,253.5 1267.3,257.2 C1268.5,260.9 1269.4,263.4 1269.8,264.7 L1180.0,220.0 L1180.0,130.0Z" fill="#30d000"/>
<path d="M1289.7,207.3 C1286.4,206.7 1275.2,205.2 1269.8,203.6 C1264.4,201.9 1261.5,198.9 1257.3,197.3 C1253.2,195.8 1248.2,193.7 1244.8,194.3 C1241.5,195.0 1239.0,198.3 1237.4,201.1 C1235.7,203.9 1236.9,209.8 1234.9,211.1 C1232.8,212.3 1229.9,209.8 1224.9,208.6 C1219.9,207.3 1212.0,204.8 1204.9,203.6 C1197.9,202.3 1186.2,201.5 1182.5,201.1 L1180.0,130.0Z" fill="#90d208"/>
<path d="M1185.0,167.4 C1187.1,165.2 1193.7,169.3 1197.4,171.1 C1201.2,173.0 1205.3,176.1 1207.4,178.6 C1209.5,181.1 1210.8,184.4 1209.9,186.1 C1209.1,187.8 1205.3,188.8 1202.4,188.6 C1199.5,188.4 1195.4,185.6 1192.5,184.9 C1189.6,184.2 1186.2,187.3 1185.0,184.4 C1183.7,181.5 1182.9,169.6 1185.0,167.4Z" fill="#dac000"/>
</g>
<clipPath id="rs3"><polygon points="1107.0,163.7 1424.2,374.9 1427.1,437.2 1108.7,228.6"/></clipPath>
<g clip-path="url(#rs3)">
<polygon points="1107.0,163.7 1424.2,374.9 1427.1,437.2 1108.7,228.6" fill="#90d208" />
<path d="M1200.0,292.0 C1198.8,289.2 1193.9,280.0 1193.0,275.0 C1192.1,270.0 1193.2,265.1 1194.8,262.2 C1196.3,259.2 1198.1,257.5 1202.3,257.3 C1206.5,257.1 1214.3,259.1 1219.7,261.0 C1225.1,262.9 1228.9,266.0 1234.7,268.5 C1240.5,271.0 1247.3,273.2 1254.8,276.1 C1262.3,279.0 1272.7,283.0 1279.8,286.1 C1286.9,289.2 1292.2,293.0 1297.2,294.8 C1302.2,296.6 1307.9,296.6 1310.0,297.0 L1440.0,380.0 L1440.0,450.0Z" fill="#30d000"/>
<path d="M1229.9,306.1 C1231.1,305.0 1233.2,302.1 1237.4,299.8 C1241.5,297.5 1250.7,295.7 1254.8,292.3 C1259.0,289.0 1257.3,280.7 1262.3,279.9 C1267.3,279.0 1276.9,284.2 1284.8,287.3 C1292.7,290.5 1305.6,296.7 1309.7,298.6 L1440.0,380.0 L1440.0,450.0Z" fill="#00d030"/>
<path d="M1262.3,329.8 C1265.2,328.9 1274.8,326.4 1279.8,324.8 C1284.8,323.1 1289.3,322.7 1292.2,319.8 C1295.2,316.9 1295.2,310.6 1297.2,307.3 C1299.3,304.0 1301.0,300.6 1304.7,299.8 C1308.5,299.1 1315.5,301.6 1319.7,302.8 C1323.8,304.1 1328.0,306.6 1329.7,307.3 L1440.0,380.0 L1440.0,450.0Z" fill="#00d08e"/>
<path d="M1259.8,336.0 C1260.4,335.4 1261.1,333.8 1263.6,332.2 C1266.1,330.7 1270.4,327.4 1274.8,326.8 C1279.2,326.1 1285.6,326.3 1289.8,328.5 C1293.9,330.7 1296.4,336.3 1299.7,339.7 C1303.1,343.2 1306.2,348.8 1310.0,349.2 C1313.7,349.7 1318.7,345.7 1322.4,342.5 C1326.2,339.3 1330.1,334.4 1332.4,330.0 C1334.7,325.6 1334.9,318.8 1336.1,316.0 C1337.4,313.3 1339.1,314.0 1339.6,313.5 L1440.0,380.0 L1440.0,450.0Z" fill="#00bed8"/>
<path d="M1284.9,337.4 C1285.4,336.8 1289.5,338.6 1291.2,339.9 C1292.8,341.2 1295.3,344.8 1294.9,345.4 C1294.5,346.0 1290.3,345.0 1288.7,343.7 C1287.0,342.3 1284.5,338.0 1284.9,337.4Z" fill="#005ed8"/>
<path d="M1341.1,386.1 C1341.5,385.2 1342.5,383.4 1343.6,381.1 C1344.6,378.8 1344.6,375.0 1347.3,372.3 C1350.0,369.6 1356.9,368.6 1359.8,364.9 C1362.7,361.1 1363.5,354.5 1364.8,349.9 C1366.0,345.3 1366.4,339.9 1367.3,337.4 C1368.1,334.9 1369.3,335.3 1369.8,334.9 L1440.0,380.0 L1440.0,450.0Z" fill="#005ed8"/>
<path d="M1352.3,394.8 C1353.1,394.6 1354.0,393.3 1357.3,393.5 C1360.6,393.7 1366.8,396.2 1372.2,396.0 C1377.7,395.9 1386.4,396.3 1389.7,392.8 C1393.0,389.3 1390.5,377.0 1392.2,374.8 C1393.9,372.7 1396.8,376.5 1399.7,379.8 C1402.6,383.1 1405.4,390.1 1409.7,394.8 C1413.9,399.4 1421.4,405.3 1425.1,407.8 C1428.9,410.3 1430.9,409.4 1432.1,409.8 L1440.0,450.0Z" fill="#0000d6"/>
<path d="M1100.0,150.0 L1330.0,305.0 L1314.7,300.5 L1269.6,281.0 L1244.7,266.0 L1219.7,251.0 L1194.8,236.1 L1169.8,222.8 L1160.4,224.8 L1162.3,234.8 L1161.1,249.8 L1154.9,258.5 L1150.0,268.0 L1095.0,240.0Z" fill="#dac000"/>
<path d="M1128.0,174.0 L1232.0,245.0 L1222.0,241.0 L1200.0,231.0 L1175.0,217.0 L1150.0,200.0 L1132.0,183.0Z" fill="#da5e00"/>
<path d="M1105.0,199.9 C1107.5,197.0 1115.8,197.8 1119.9,198.6 C1124.1,199.5 1126.8,201.3 1129.9,204.9 C1133.0,208.4 1136.6,214.9 1138.7,219.8 C1140.7,224.8 1142.6,231.4 1142.4,234.8 C1142.2,238.2 1140.3,240.7 1137.4,240.3 C1134.5,239.9 1129.1,235.3 1124.9,232.3 C1120.8,229.3 1115.8,225.0 1112.5,222.3 C1109.1,219.6 1106.2,219.8 1105.0,216.1 C1103.7,212.4 1102.5,202.8 1105.0,199.9Z" fill="#da5e00"/>
<path d="M1105.0,171.2 C1106.0,169.3 1109.6,172.4 1111.2,173.7 C1112.8,174.9 1114.2,177.0 1114.5,178.7 C1114.7,180.3 1114.0,182.6 1112.5,183.7 C1110.9,184.7 1106.2,187.0 1105.0,184.9 C1103.7,182.8 1103.9,173.1 1105.0,171.2Z" fill="#90d208"/>
</g>
<text transform="translate(1132.9,275.8) scale(0.86,1)" font-family="'Liberation Sans', sans-serif" font-size="10.8" text-anchor="middle" fill="#2a2a2a">200</text>
<text transform="translate(1199.7,319.9) scale(0.86,1)" font-family="'Liberation Sans', sans-serif" font-size="10.8" text-anchor="middle" fill="#2a2a2a">150</text>
<text transform="translate(1265.8,363.6) scale(0.86,1)" font-family="'Liberation Sans', sans-serif" font-size="10.8" text-anchor="middle" fill="#2a2a2a">100</text>
<text transform="translate(1334.1,408.0) scale(0.86,1)" font-family="'Liberation Sans', sans-serif" font-size="10.8" text-anchor="middle" fill="#2a2a2a">50</text>
<text transform="translate(1402.7,452.9) scale(0.86,1)" font-family="'Liberation Sans', sans-serif" font-size="10.8" text-anchor="middle" fill="#2a2a2a">0</text>
<text transform="translate(1469.3,439.3) scale(0.86,1)" font-family="'Liberation Sans', sans-serif" font-size="10.8" text-anchor="middle" fill="#2a2a2a">150</text>
<text transform="translate(1548.4,416.6) scale(0.86,1)" font-family="'Liberation Sans', sans-serif" font-size="10.8" text-anchor="middle" fill="#2a2a2a">100</text>
<text transform="translate(1624.8,394.1) scale(0.86,1)" font-family="'Liberation Sans', sans-serif" font-size="10.8" text-anchor="middle" fill="#2a2a2a">50</text>
<text transform="translate(1701.4,302.1) scale(0.86,1)" font-family="'Liberation Sans', sans-serif" font-size="10.8" text-anchor="middle" fill="#2a2a2a">40</text>
<text transform="translate(1702.7,336.2) scale(0.86,1)" font-family="'Liberation Sans', sans-serif" font-size="10.8" text-anchor="middle" fill="#2a2a2a">20</text>
<text transform="translate(1700.4,371.7) scale(0.86,1)" font-family="'Liberation Sans', sans-serif" font-size="10.8" text-anchor="middle" fill="#2a2a2a">0</text>
<line x1="1425.6" y1="437.0" x2="1432.6" y2="441.6" stroke="#0000d0" stroke-width="3.4" stroke-linecap="butt"/>
<line x1="1504.8" y1="415.7" x2="1511.8" y2="420.3" stroke="#0000d0" stroke-width="3.4" stroke-linecap="butt"/>
<line x1="1600.2" y1="387.2" x2="1607.2" y2="391.8" stroke="#0000d0" stroke-width="3.4" stroke-linecap="butt"/>
<text x="1197.2" y="327.3" font-family="'Liberation Sans', sans-serif" font-size="11.2" font-weight="bold" text-anchor="start" transform="rotate(33 1197.2 327.3)" dominant-baseline="middle" letter-spacing="0.45">CoordinateX</text>
<text x="1533.5" y="424.7" font-family="'Liberation Sans', sans-serif" font-size="11.2" font-weight="bold" text-anchor="start" transform="rotate(-15 1533.5 424.7)" dominant-baseline="middle" letter-spacing="0.45">CoordinateY</text>
<text x="1711.0" y="304.9" font-family="'Liberation Sans', sans-serif" font-size="11.2" font-weight="bold" text-anchor="start" transform="rotate(86 1711.0 304.9)" dominant-baseline="middle" letter-spacing="0.45">CoordinateZ</text>
</g>
</svg>
</body></html>
